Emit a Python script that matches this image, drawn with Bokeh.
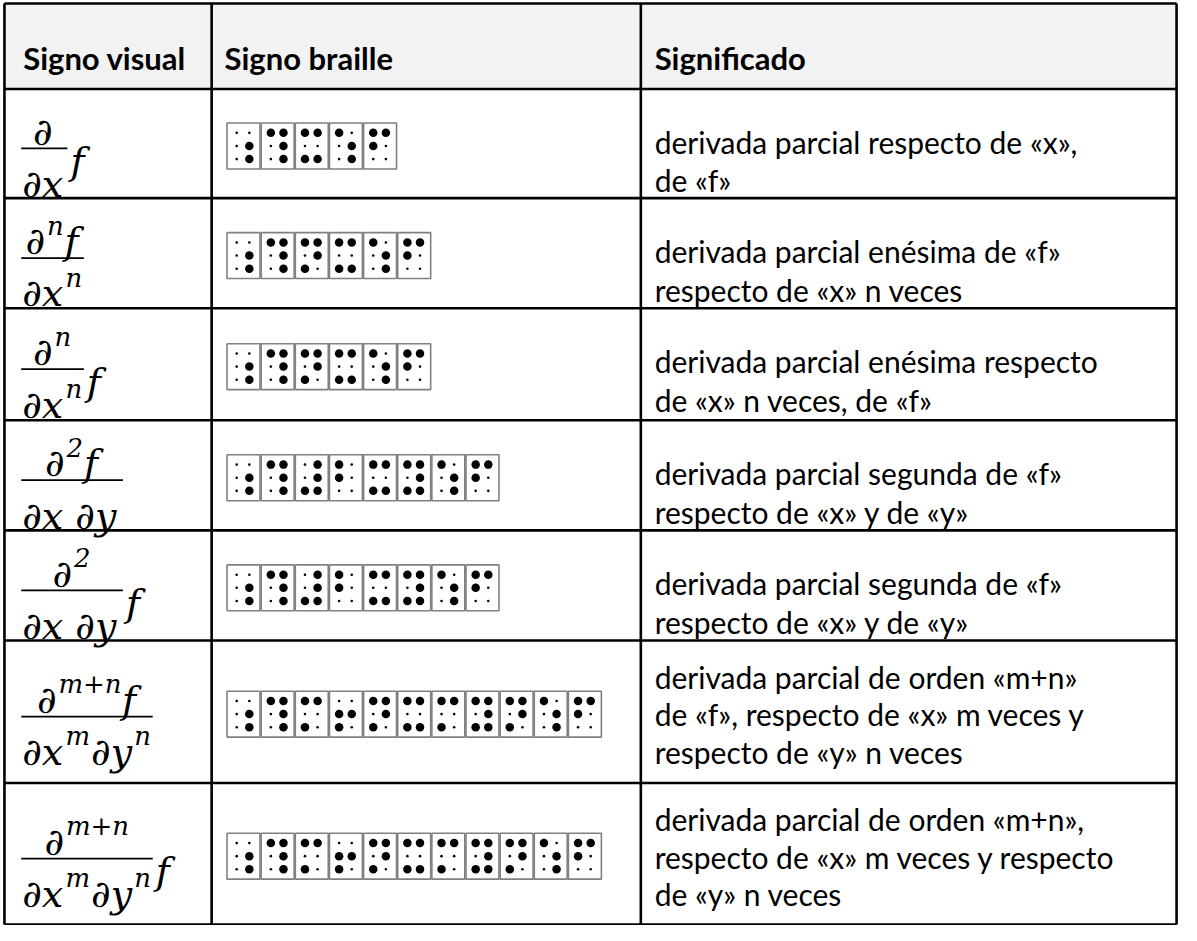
from bokeh.plotting import figure
from bokeh.models import Range1d
from bokeh.embed import file_html
from bokeh.resources import INLINE
from bokeh.core.properties import value

# ---------------- data ----------------
headers = ["Signo visual", "Signo braille", "Significado"]

# formula pieces: list of (text, is_superscript)
numerators = [
    [("∂", 0)],
    [("∂", 0), ("n", 1), ("f", 0)],
    [("∂", 0), ("n", 1)],
    [("∂", 0), ("2", 1), ("f", 0)],
    [("∂", 0), ("2", 1)],
    [("∂", 0), ("m+n", 1), ("f", 0)],
    [("∂", 0), ("m+n", 1)],
]
denominators = [
    [("∂x", 0)],
    [("∂x", 0), ("n", 1)],
    [("∂x", 0), ("n", 1)],
    [("∂x ∂y", 0)],
    [("∂x ∂y", 0)],
    [("∂x", 0), ("m", 1), ("∂y", 0), ("n", 1)],
    [("∂x", 0), ("m", 1), ("∂y", 0), ("n", 1)],
]
tails = ["f", "", "f", "", "f", "", "f"]

braille_rows = [
    ["56", "1456", "1346", "156", "124"],
    ["56", "1456", "1345", "1346", "156", "124"],
    ["56", "1456", "1345", "1346", "156", "124"],
    ["56", "1456", "3456", "12", "1346", "13456", "156", "124"],
    ["56", "1456", "3456", "12", "1346", "13456", "156", "124"],
    ["56", "1456", "134", "235", "1345", "1346", "134", "13456", "1345", "156", "124"],
    ["56", "1456", "134", "235", "1345", "1346", "134", "13456", "1345", "156", "124"],
]

meanings = [
    ["derivada parcial respecto de «x»,", "de «f»"],
    ["derivada parcial enésima de «f»", "respecto de «x» n veces"],
    ["derivada parcial enésima respecto", "de «x» n veces,  de «f»"],
    ["derivada parcial segunda de «f»", "respecto de «x» y de «y»"],
    ["derivada parcial segunda de «f»", "respecto de «x» y de «y»"],
    ["derivada parcial de orden «m+n»", "de «f», respecto de «x» m veces y", "respecto de «y» n veces"],
    ["derivada parcial de orden «m+n»,", "respecto de «x» m veces y respecto", "de «y» n veces"],
]

# ---------------- layout ----------------
row_edges = [3, 90, 201, 313, 427, 539, 651, 796, 940]
col_edges = [4, 214, 649, 1192]

W, H = 1181, 925
p = figure(width=W, height=H, x_range=Range1d(0, 1197), y_range=Range1d(941, 0),
           output_backend="svg", toolbar_location=None, min_border=0)
p.axis.visible = False
p.grid.visible = False
p.outline_line_color = None
p.background_fill_color = "white"
p.border_fill_color = "white"

# header background
p.quad(left=[col_edges[0]], right=[col_edges[-1]], top=[row_edges[0]], bottom=[row_edges[1]],
       fill_color="#f2f2f2", line_color=None)

TEXT_FONT = value("Lato")
MATH_FONT = value("DejaVu Serif")

# header texts
p.text(x=[23, 227, 663], y=[58, 58, 58], text=headers, text_font=TEXT_FONT,
       text_font_size="31px", text_font_style="bold", text_color="black",
       text_baseline="alphabetic", text_align="left")

# meanings
tx, ty, tt = [], [], []
for r, lines in enumerate(meanings):
    top, bot = row_edges[r + 1], row_edges[r + 2]
    if len(lines) == 2:
        b1, pitch = top + 54, 39
    else:
        b1, pitch = top + 37, 38
    for i, ln in enumerate(lines):
        tx.append(663)
        ty.append(b1 + i * pitch)
        tt.append(ln)
p.text(x=tx, y=ty, text=tt, text_font=TEXT_FONT, text_font_size="30px",
       text_color="black", text_baseline="alphabetic", text_align="left")

# braille cells
PITCH_X = 34.6
CW, CH = 33.4, 46.7
DOT_DX = [10.4 - PITCH_X / 2, 23.2 - PITCH_X / 2]
DOT_DY = [10 - CH / 2, 23.3 - CH / 2, 36.7 - CH / 2]
cell_x, cell_y = [], []
big_x, big_y, small_x, small_y = [], [], [], []
for r, cells in enumerate(braille_rows):
    top, bot = row_edges[r + 1], row_edges[r + 2]
    cy = (top + bot) / 2 + 2.5
    for i, pat in enumerate(cells):
        cx = 229 + PITCH_X / 2 + i * PITCH_X
        cell_x.append(cx)
        cell_y.append(cy)
        for d in range(1, 7):
            col = 0 if d <= 3 else 1
            rr = (d - 1) % 3
            px, py = cx + DOT_DX[col], cy + DOT_DY[rr]
            if str(d) in pat:
                big_x.append(px); big_y.append(py)
            else:
                small_x.append(px); small_y.append(py)
p.rect(x=cell_x, y=cell_y, width=CW, height=CH, fill_color="white",
       line_color="#808080", line_width=1.6)
p.scatter(x=big_x, y=big_y, size=8.5, marker="circle", fill_color="black", line_color=None)
p.scatter(x=small_x, y=small_y, size=2.6, marker="circle", fill_color="black", line_color=None)

# formulas
S = 38
SS = 26
EM = {"∂": 0.60, "x": 0.58, "y": 0.58, "f": 0.40, "n": 0.64, "m": 0.96,
      "+": 0.84, "2": 0.64, " ": 0.30}


def width(pieces):
    w = 0
    for t, sup in pieces:
        size = SS if sup else S
        w += sum(EM.get(c, 0.6) for c in t) * size
    return w


mx, my, mt, ms = [], [], [], []
bars_x0, bars_x1, bars_y = [], [], []


def place(pieces, x0, base):
    x = x0
    for t, sup in pieces:
        size = SS if sup else S
        mx.append(x - (1 if sup else 0))
        my.append(base - 16 if sup else base)
        mt.append(t)
        ms.append(f"{size}px")
        x += sum(EM.get(c, 0.6) for c in t) * size
    return x


for r in range(7):
    top, bot = row_edges[r + 1], row_edges[r + 2]
    bar = (top + bot) / 2 + 5
    nw = width(numerators[r])
    dw = width(denominators[r])
    bw = max(nw, dw) + 2
    xl = 21
    xr = xl + bw
    bars_x0.append(xl); bars_x1.append(xr); bars_y.append(bar)
    place(numerators[r], xl + (bw - nw) / 2, bar - 17)
    place(denominators[r], xl + (bw - dw) / 2, bar + 36)
    if tails[r]:
        place([(tails[r], 0)], xr + 3, bar + 13)

p.segment(x0=bars_x0, y0=bars_y, x1=bars_x1, y1=bars_y, line_color="black", line_width=1.8)
p.text(x=mx, y=my, text=mt, text_font=MATH_FONT, text_font_size=ms, text_font_style="italic",
       text_color="black", text_baseline="alphabetic", text_align="left")

# table grid
hx0, hy0, hx1, hy1 = [], [], [], []
for y in row_edges:
    hx0.append(col_edges[0]); hx1.append(col_edges[-1]); hy0.append(y); hy1.append(y)
for x in col_edges:
    hx0.append(x); hx1.append(x); hy0.append(row_edges[0]); hy1.append(row_edges[-1])
p.segment(x0=hx0, y0=hy0, x1=hx1, y1=hy1, line_color="black", line_width=2.6)

open("out.html", "w").write(file_html(p, INLINE))
